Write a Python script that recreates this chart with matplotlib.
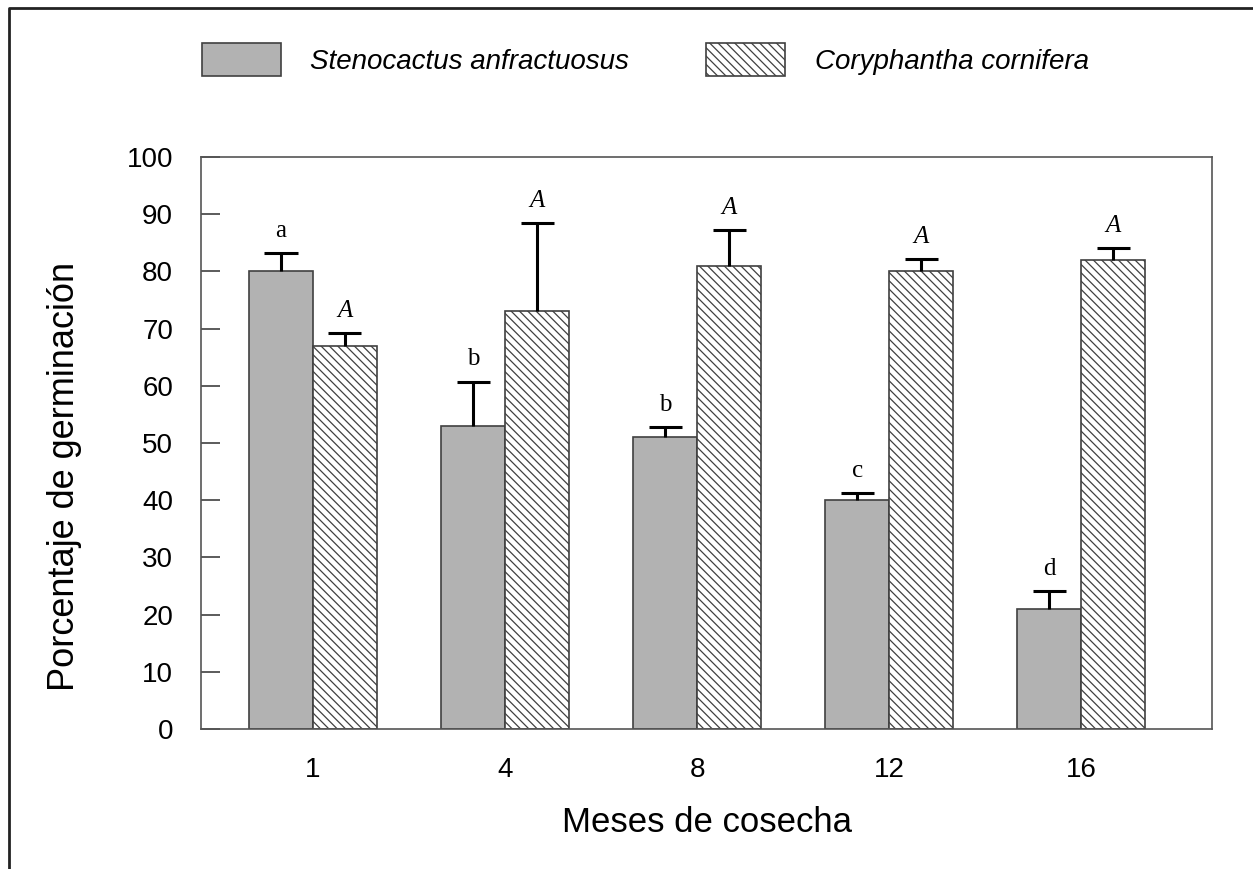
import numpy as np
import matplotlib
matplotlib.use("Agg")
import matplotlib.pyplot as plt
from matplotlib.lines import Line2D
from matplotlib.patches import Rectangle

months = ["1", "4", "8", "12", "16"]
steno = [80, 53, 51, 40, 21]
steno_err = [3.2, 7.7, 1.8, 1.2, 3.1]
cory = [67, 73, 81, 80, 82]
cory_err = [2.2, 15.4, 6.2, 2.1, 2.1]
steno_letters = ["a", "b", "b", "c", "d"]
cory_letters = ["A", "A", "A", "A", "A"]

plt.rcParams['font.family'] = ['Liberation Sans', 'DejaVu Sans']
plt.rcParams['hatch.linewidth'] = 0.9
plt.rcParams['hatch.color'] = '#404040'

fig = plt.figure(figsize=(12.53, 8.69), dpi=100)
ax = fig.add_axes([201/1253, 1 - 729/869, (1212-201)/1253, (729-157)/869])

x = np.arange(len(months))
w = 0.333
edge = '#404040'
ax.bar(x - w/2, steno, w, color='#b2b2b2', edgecolor=edge, linewidth=1.2, zorder=2)
ax.bar(x + w/2, cory, w, color='white', edgecolor=edge, linewidth=1.2,
       hatch='\\\\\\\\', zorder=2)

# upward-only error bars with a single cap
cap = 0.086
for xs, vals, errs in [(x - w/2, steno, steno_err), (x + w/2, cory, cory_err)]:
    tops = np.array(vals) + np.array(errs)
    ax.vlines(xs, vals, tops, color='black', linewidth=2.2, zorder=3)
    ax.hlines(tops, xs - cap, xs + cap, color='black', linewidth=2.2, zorder=3)

for i in range(len(months)):
    ax.text(x[i] - w/2, steno[i] + steno_err[i] + 2.0, steno_letters[i],
            ha='center', va='bottom', fontsize=18, family='Liberation Serif')
    ax.text(x[i] + w/2, cory[i] + cory_err[i] + 2.0, cory_letters[i],
            ha='center', va='bottom', fontsize=18, family='Liberation Serif',
            style='italic')

ax.set_xlim(-0.583, 4.68)
ax.set_ylim(0, 100)
ax.set_yticks(np.arange(0, 101, 10))
ax.set_xticks(x)
ax.set_xticklabels(months)
ax.tick_params(axis='y', direction='in', length=14, width=1.2, color='#404040',
               labelsize=20, pad=20)
ax.tick_params(axis='x', length=0, labelsize=20, pad=20)
for s in ax.spines.values():
    s.set_color('#555555')
    s.set_linewidth(1.2)

ax.set_xlabel('Meses de cosecha', fontsize=25)
ax.set_ylabel('Porcentaje de germinación', fontsize=26)
ax.xaxis.set_label_coords(0.5, -(822 - 729) / (729 - 157))
ax.xaxis.label.set_va('center')
ax.yaxis.set_label_coords(-(201 - 65) / (1212 - 201), (729 - 476) / (729 - 157))
ax.yaxis.label.set_va('center')

# legend drawn in figure coordinates
def fx(px):
    return px / 1253

def fy(py):
    return 1 - py / 869

fig.patches.append(Rectangle((fx(202), fy(76)), fx(79), 33/869, transform=fig.transFigure,
                             facecolor='#b2b2b2', edgecolor=edge, linewidth=1.2))
fig.patches.append(Rectangle((fx(706), fy(76)), fx(79), 33/869, transform=fig.transFigure,
                             facecolor='white', edgecolor=edge, linewidth=1.2,
                             hatch='\\\\\\\\'))
fig.text(fx(310), fy(62), 'Stenocactus anfractuosus', style='italic', fontsize=20,
         va='center', ha='left')
fig.text(fx(815), fy(62), 'Coryphantha cornifera', style='italic', fontsize=20,
         va='center', ha='left')

# outer frame (left and top edges only)
fig.lines.append(Line2D([fx(9), fx(9), 1.0], [0.0, fy(8), fy(8)],
                        transform=fig.transFigure, color='#222222', linewidth=2))

fig.savefig('out.png', dpi=100)
